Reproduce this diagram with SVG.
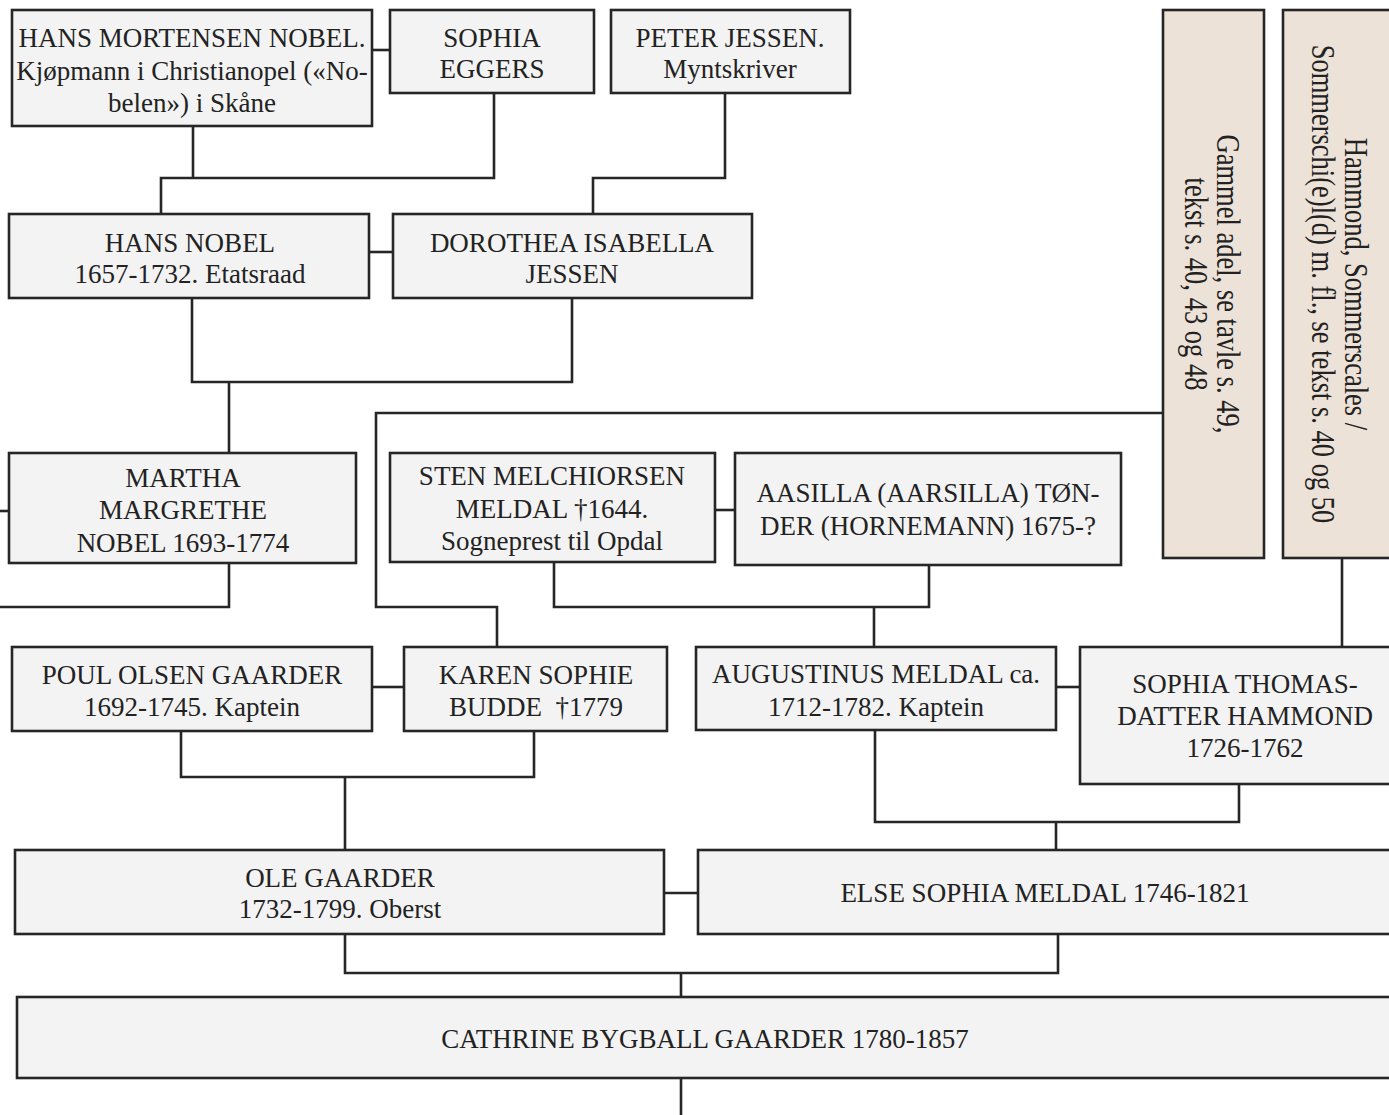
<svg xmlns="http://www.w3.org/2000/svg" width="1389" height="1115" viewBox="0 0 1389 1115">
<style>
  .box { fill: #f3f3f3; stroke: #262626; stroke-width: 2.6; }
  .ref { fill: #ede2d8; stroke: #262626; stroke-width: 2.6; }
  .t { font-family: "Liberation Serif", "Times New Roman", serif; font-size: 27px; fill: #222; text-anchor: middle; }
  .r { font-family: "Liberation Serif", "Times New Roman", serif; font-size: 34px; fill: #222; text-anchor: middle; }
  .c { fill: none; stroke: #262626; stroke-width: 2.6; }
</style>
<rect width="1389" height="1115" fill="#ffffff"/>
<g id="connectors" class="c">
  <path d="M372,50 H390"/>
  <path d="M193,126 V178 M161,214 V178 H494 V93"/>
  <path d="M725,93 V178 H593 V214"/>
  <path d="M369,252 H393"/>
  <path d="M192,298 V382 H572 V298 M229,382 V453"/>
  <path d="M0,511 H9"/>
  <path d="M229,563 V607 H0"/>
  <path d="M1163,413 H376 V607 H497 V647"/>
  <path d="M715,510 H735"/>
  <path d="M554,562 V607 H929 V565 M874,607 V647"/>
  <path d="M1342,558 V647"/>
  <path d="M372,687 H404"/>
  <path d="M1056,687 H1080"/>
  <path d="M181,731 V777 H534 V731 M345,777 V850"/>
  <path d="M875,730 V822 H1239 V784 M1056,822 V850"/>
  <path d="M664,893 H698"/>
  <path d="M345,934 V973 H1058 V934 M681,973 V997"/>
  <path d="M681,1078 V1115"/>
</g>
<g id="hans-mortensen-nobel">
  <rect class="box" x="12" y="10" width="360" height="116"/>
  <text class="t" x="192" y="47">HANS MORTENSEN NOBEL.</text>
  <text class="t" x="192" y="80">Kjøpmann i Christianopel («No-</text>
  <text class="t" x="192" y="112">belen») i Skåne</text>
</g>
<g id="sophia-eggers">
  <rect class="box" x="390" y="10" width="204" height="83"/>
  <text class="t" x="492" y="47">SOPHIA</text>
  <text class="t" x="492" y="78">EGGERS</text>
</g>
<g id="peter-jessen">
  <rect class="box" x="611" y="10" width="239" height="83"/>
  <text class="t" x="730" y="47">PETER JESSEN.</text>
  <text class="t" x="730" y="78">Myntskriver</text>
</g>
<g id="hans-nobel">
  <rect class="box" x="9" y="214" width="360" height="84"/>
  <text class="t" x="190" y="252">HANS NOBEL</text>
  <text class="t" x="190" y="283">1657-1732. Etatsraad</text>
</g>
<g id="dorothea-isabella-jessen">
  <rect class="box" x="393" y="214" width="359" height="84"/>
  <text class="t" x="572" y="252">DOROTHEA ISABELLA</text>
  <text class="t" x="572" y="283">JESSEN</text>
</g>
<g id="martha-margrethe-nobel">
  <rect class="box" x="9" y="453" width="347" height="110"/>
  <text class="t" x="183" y="487">MARTHA</text>
  <text class="t" x="183" y="519">MARGRETHE</text>
  <text class="t" x="183" y="552">NOBEL 1693-1774</text>
</g>
<g id="sten-melchiorsen-meldal">
  <rect class="box" x="390" y="453" width="325" height="109"/>
  <text class="t" x="552" y="485">STEN MELCHIORSEN</text>
  <text class="t" x="552" y="518">MELDAL †1644.</text>
  <text class="t" x="552" y="550">Sogneprest til Opdal</text>
</g>
<g id="aasilla-tonder">
  <rect class="box" x="735" y="453" width="386" height="112"/>
  <text class="t" x="928" y="502">AASILLA (AARSILLA) TØN-</text>
  <text class="t" x="928" y="535">DER (HORNEMANN) 1675-?</text>
</g>
<g id="gammel-adel">
  <rect class="ref" x="1163" y="10" width="101" height="548"/>
  <g transform="translate(1214,284) rotate(90) scale(0.78,1)">
    <text class="r" x="0" y="-3">Gammel adel, se tavle s. 49,</text>
    <text class="r" x="0" y="29">tekst s. 40, 43 og 48</text>
  </g>
</g>
<g id="hammond-sommerscales">
  <rect class="ref" x="1283" y="10" width="112" height="548"/>
  <g transform="translate(1345,284) rotate(90) scale(0.78,1)">
    <text class="r" x="0" y="0">Hammond, Sommerscales /</text>
    <text class="r" x="0" y="33">Sommerschi(e)l(d) m. fl., se tekst s. 40 og 50</text>
  </g>
</g>
<g id="poul-olsen-gaarder">
  <rect class="box" x="12" y="647" width="360" height="84"/>
  <text class="t" x="192" y="684">POUL OLSEN GAARDER</text>
  <text class="t" x="192" y="716">1692-1745. Kaptein</text>
</g>
<g id="karen-sophie-budde">
  <rect class="box" x="404" y="647" width="263" height="84"/>
  <text class="t" x="536" y="684">KAREN SOPHIE</text>
  <text class="t" x="536" y="716" xml:space="preserve">BUDDE  †1779</text>
</g>
<g id="augustinus-meldal">
  <rect class="box" x="696" y="647" width="360" height="83"/>
  <text class="t" x="876" y="683">AUGUSTINUS MELDAL ca.</text>
  <text class="t" x="876" y="716">1712-1782. Kaptein</text>
</g>
<g id="sophia-thomasdatter-hammond">
  <rect class="box" x="1080" y="647" width="315" height="137"/>
  <text class="t" x="1245" y="693">SOPHIA THOMAS-</text>
  <text class="t" x="1245" y="725">DATTER HAMMOND</text>
  <text class="t" x="1245" y="757">1726-1762</text>
</g>
<g id="ole-gaarder">
  <rect class="box" x="15" y="850" width="649" height="84"/>
  <text class="t" x="340" y="887">OLE GAARDER</text>
  <text class="t" x="340" y="918">1732-1799. Oberst</text>
</g>
<g id="else-sophia-meldal">
  <rect class="box" x="698" y="850" width="697" height="84"/>
  <text class="t" x="1045" y="902">ELSE SOPHIA MELDAL 1746-1821</text>
</g>
<g id="cathrine-bygball-gaarder">
  <rect class="box" x="17" y="997" width="1378" height="81"/>
  <text class="t" x="705" y="1048">CATHRINE BYGBALL GAARDER 1780-1857</text>
</g>
</svg>
